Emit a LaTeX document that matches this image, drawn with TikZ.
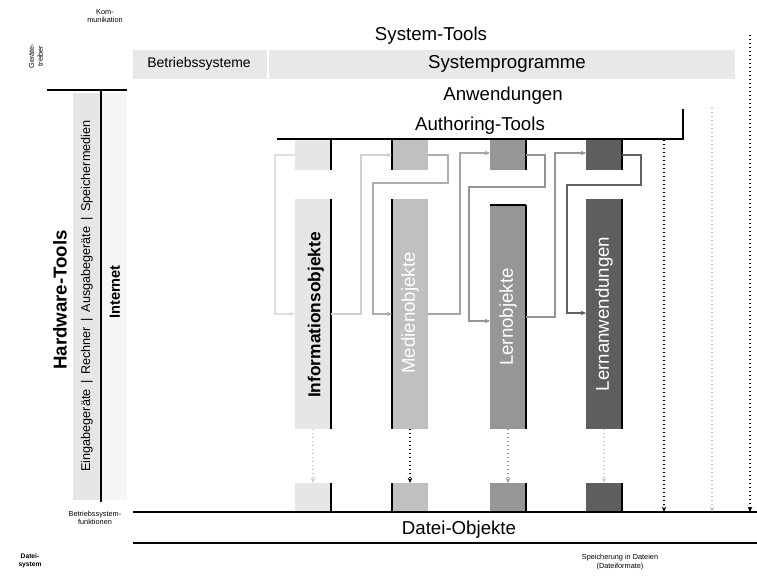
\documentclass[tikz,border=0pt]{standalone}
\usepackage{fontspec}
\setmainfont{Liberation Sans}
\usetikzlibrary{arrows.meta}
\definecolor{cA}{HTML}{E6E6E6}
\definecolor{cB}{HTML}{C0C0C0}
\definecolor{cC}{HTML}{969696}
\definecolor{cD}{HTML}{5E5E5E}
\definecolor{band}{HTML}{E8E8E8}
\begin{document}
\begin{tikzpicture}[x=0.75pt,y=-0.75pt,
  heavy/.style={line width=1.3pt,black},
  blk/.style={draw=none,minimum width=27pt,inner sep=0pt,outer sep=0pt},
  topbox/.style={blk,minimum height=22.5pt},
  bigbox/.style={blk,minimum height=172.5pt},
  botbox/.style={blk,minimum height=21.75pt},
  lab/.style={font=\fontsize{14}{16}\selectfont,inner sep=0pt},
  vlab/.style={lab,rotate=90},
  tiny/.style={font=\fontsize{5.5}{6.5}\selectfont,align=center,inner sep=0pt},
  conn/.style={line width=0.8pt,-{Stealth[length=4pt,width=3.5pt]}},
  dots/.style={dotted,line width=1pt,-{Stealth[length=4pt,width=3.5pt]}}]
\useasboundingbox (0,0) rectangle (757,576);

% --- left column: hardware ---
\fill[cA] (73,93) rectangle (101,500);
\fill[black!4] (101,93) rectangle (127,500);
\draw[heavy] (47,90) coordinate (hl) -- (127,90) coordinate (hr);
\draw[heavy] (101,90) coordinate (vt) -- (101,502) coordinate (vb);
\node[vlab,font=\fontsize{9.5}{11}\selectfont] (hwparts) at (87,296)
  {Eingabegeräte \,|\, Rechner \,|\, Ausgabegeräte \,|\, Speichermedien};
\node[vlab,font=\bfseries\fontsize{14}{16}\selectfont] (hw) at (60,300) {Hardware-Tools};
\node[vlab,font=\bfseries\fontsize{11}{13}\selectfont] (net) at (115,292) {Internet};

% --- top rows: system tools ---
\fill[band] (133,50) rectangle (735,79);
\draw[white,line width=1pt] (268,50) -- (268,79);
\node[lab] (systools) at (431,36) {System-Tools};
\node[lab,font=\fontsize{10.5}{12}\selectfont] (os) at (199,64) {Betriebssysteme};
\node[lab] (sysprog) at (507,64) {Systemprogramme};
\node[lab] (apps) at (503,96) {Anwendungen};
\node[lab] (auth) at (480,126) {Authoring-Tools};
\draw[heavy] (277,139) coordinate (al) -- (683,139) coordinate (ar) -- (683,109) coordinate (at);

% --- the four object columns ---
\node[topbox,fill=cA] (T1) at (313,155) {};
\node[topbox,fill=cB] (T2) at (410,155) {};
\node[topbox,fill=cC] (T3) at (508,155) {};
\node[topbox,fill=cD] (T4) at (604,155) {};
\node[bigbox,fill=cA] (B1) at (313,314) {};
\node[bigbox,fill=cB] (B2) at (410,314) {};
\node[blk,fill=cC,minimum height=168pt] (B3) at (508,317) {};
\node[bigbox,fill=cD] (B4) at (604,314) {};
\node[botbox,fill=cA] (D1) at (313,497.5) {};
\node[botbox,fill=cB] (D2) at (410,497.5) {};
\node[botbox,fill=cC] (D3) at (508,497.5) {};
\node[botbox,fill=cD] (D4) at (604,497.5) {};

\node[vlab,font=\bfseries\fontsize{13}{15}\selectfont] (L1) at (316,315) {Informationsobjekte};
\node[vlab,white] (L2) at (410,313) {Medienobjekte};
\node[vlab,white] (L3) at (508,317) {Lernobjekte};
\node[vlab,white] (L4) at (604,314) {Lernanwendungen};

% black edges of the columns
\foreach \n in {T1,B1,D1,T3,B3,D3,T4,B4,D4}
  \draw[heavy] (\n.north east) -- (\n.south east);
\foreach \n in {T2,B2,D2}
  \draw[heavy] (\n.north west) -- (\n.south west);
\draw[heavy] (B3.north west) -- (B3.north east);

% --- connectors between the columns ---
\draw[conn,black!13] (T1.west) -- ++(-20,0) |- (B1.west);
\draw[conn,black!18] (B1.east) -- ++(30,0) |- (T2.west);
\draw[conn,black!32] (T2.east) -- ++(20,0) -- ++(0,28) -- ++(-75,0) |- (B2.west);
\draw[conn,black!35] (B2.east) -- ++(32,0) |- ([yshift=1.5pt]T3.west);
\draw[conn,black!42] (T3.east) -- ++(19,0) -- ++(0,32) -- ++(-76,0) |- ([yshift=-3pt]B3.west);
\draw[conn,black!42] (B3.east) -- ++(29,0) |- ([yshift=1.5pt]T4.west);
\draw[conn,black!62] (T4.east) -- ++(19,0) -- ++(0,30) -- ++(-74,0) |- ([yshift=0.75pt]B4.west);

% --- dotted links down to the file objects ---
\draw[dots,black!20] (B1.south) -- (D1.north);
\draw[dots,black] (B2.south) -- (D2.north);
\draw[dots,black!40] (B3.south) -- (D3.north);
\draw[dots,black!20] (B4.south) -- (D4.north);

% --- bottom bar: file objects ---
\draw[heavy] (133,512) coordinate (b1l) -- (757,512) coordinate (b1r);
\draw[heavy] (133,543) coordinate (b2l) -- (757,543) coordinate (b2r);
\node[lab] (files) at (459,530) {Datei-Objekte};

% --- right-hand dotted verticals ---
\coordinate (r1t) at (664,140); \coordinate (r1b) at (664,512);
\coordinate (r2t) at (712,108); \coordinate (r2b) at (712,512);
\coordinate (r3t) at (750,35);  \coordinate (r3b) at (750,512);
\draw[dots,black] (r1t) -- (r1b);
\draw[dots,black!25] (r2t) -- (r2b);
\draw[dots,black] (r3t) -- (r3b);

% --- small notes ---
\node[tiny] (n1) at (105,16) {Kom-\\munikation};
\node[tiny,rotate=90] (n2) at (36,56) {Geräte-\\treiber};
\node[tiny] (n3) at (95,518) {Betriebssystem-\\funktionen};
\node[tiny,font=\bfseries\fontsize{5}{6}\selectfont] (n4) at (30,561) {Datei-\\system};
\node[tiny] (n5) at (620,562) {Speicherung in Dateien\\(Dateiformate)};
\end{tikzpicture}
\end{document}
